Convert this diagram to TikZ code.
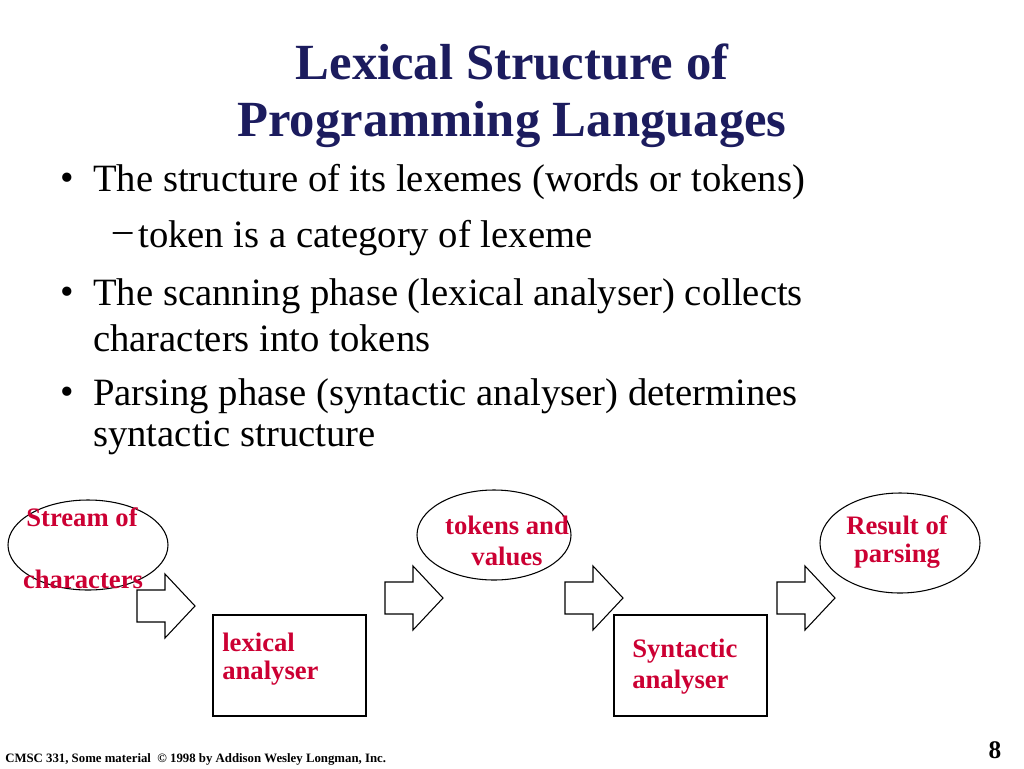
\documentclass[tikz,border=0pt]{standalone}
\usepackage{fontspec}
\setmainfont{Liberation Serif}
\begin{document}
\begin{tikzpicture}[x=0.75pt,y=-0.75pt,
  title/.style={font=\fontsize{38}{40}\selectfont\bfseries,text=navy},
  body/.style={font=\fontsize{29}{32}\selectfont,anchor=west,inner sep=0},
  lab/.style={font=\fontsize{20}{22}\selectfont\bfseries,text=labred,inner sep=0},
  oval/.style={draw,thick,fill=white},
  box/.style={draw,thick},
  blk/.style={draw,thick,fill=white,line join=miter}]
\definecolor{navy}{HTML}{1C1C5E}
\definecolor{labred}{HTML}{CC0033}
\useasboundingbox (0,0) rectangle (1024,768);
\node[title] (t1) at (512,62) {Lexical Structure of};
\node[title] (t2) at (512,125) {Programming Languages};
\node[body] (b1) at (60,182) {•};
\node[body] (l1) at (93,182) {The structure of its lexemes (words or tokens)};
\node[body] (d1) at (113,238) {–};
\node[body] (l2) at (138,238) {token is a category of lexeme};
\node[body] (b2) at (60,296) {•};
\node[body] (l3) at (93,296) {The scanning phase (lexical analyser) collects};
\node[body] (l4) at (93,338) {characters into tokens};
\node[body] (b3) at (60,396) {•};
\node[body] (l5) at (93,396) {Parsing phase (syntactic analyser) determines};
\node[body] (l6) at (93,438) {syntactic structure};
% ovals
\draw[oval] (88,545) ellipse [x radius=80, y radius=45];
\draw[oval] (494,535) ellipse [x radius=77, y radius=45];
\draw[oval] (900,543) ellipse [x radius=80, y radius=50];
\node[lab] (s1) at (82,517) {Stream of};
\node[lab] (s2) at (83,579) {characters};
\node[lab] (v1) at (507,525) {tokens and};
\node[lab] (v2) at (507,556) {values};
\node[lab] (r1) at (897,525) {Result of};
\node[lab] (r2) at (897,556) {parsing};
% boxes
\draw[box] (213,615) rectangle (366,716);
\draw[box] (614,615) rectangle (767,716);
\node[lab,anchor=west] (x1) at (222,642) {lexical};
\node[lab,anchor=west] (x2) at (222,673) {analyser};
\node[lab,anchor=west] (y1) at (632,651) {Syntactic};
\node[lab,anchor=west] (y2) at (632,682) {analyser};
% block arrows
\foreach \x/\y in {137/606, 385/598, 565/598, 777/598}{
  \draw[blk] (\x,\y-16) -- (\x+28,\y-16) -- (\x+28,\y-32) -- (\x+58,\y) -- (\x+28,\y+32) -- (\x+28,\y+16) -- (\x,\y+16) -- cycle;
}
\node[font=\fontsize{9.6}{10}\selectfont\bfseries,anchor=west,inner sep=0] (f) at (5,759) {CMSC 331, Some material \ © 1998 by Addison Wesley Longman, Inc.};
\node[font=\fontsize{19}{20}\selectfont\bfseries,inner sep=0] (pg) at (995,750) {8};
\end{tikzpicture}
\end{document}
